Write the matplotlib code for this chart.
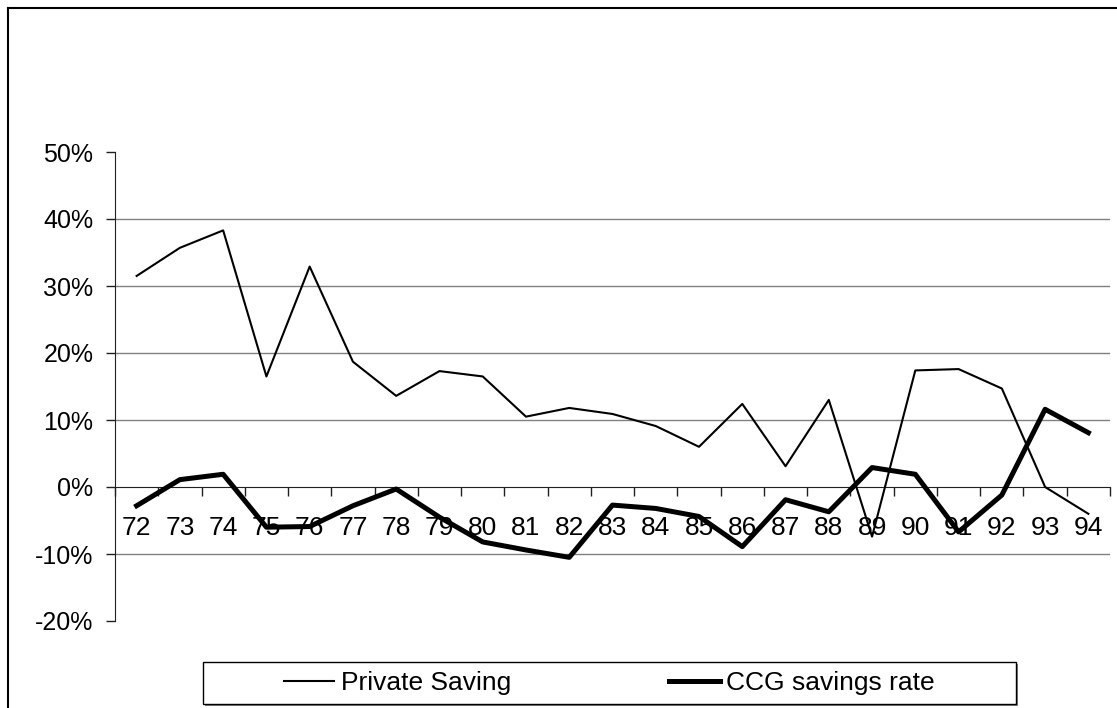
import matplotlib
matplotlib.use('Agg')
import matplotlib.pyplot as plt
from matplotlib.lines import Line2D
from matplotlib.patches import Rectangle
from matplotlib.ticker import FixedLocator, FuncFormatter

plt.rcParams['font.family'] = ['Liberation Sans', 'DejaVu Sans']

years = ['72', '73', '74', '75', '76', '77', '78', '79', '80', '81', '82', '83',
         '84', '85', '86', '87', '88', '89', '90', '91', '92', '93', '94']
private_saving = [31.5, 35.7, 38.3, 16.5, 32.9, 18.7, 13.6, 17.3, 16.5, 10.5, 11.8, 10.9,
                  9.1, 6.0, 12.4, 3.1, 13.0, -7.4, 17.4, 17.6, 14.7, 0.0, -4.0]
ccg_savings_rate = [-2.8, 1.1, 1.9, -6.0, -5.9, -2.8, -0.3, -4.5, -8.2, -9.4, -10.5, -2.7,
                    -3.2, -4.4, -8.9, -1.9, -3.7, 2.9, 1.9, -6.7, -1.2, 11.6, 8.1]
grid_values = [-10, 10, 20, 30, 40]

W, H = 1117, 708
fig = plt.figure(figsize=(W / 100, H / 100), dpi=100)
ax = fig.add_axes([115 / W, 1 - 621 / H, (1110 - 115) / W, (621 - 152) / H])

x = list(range(len(years)))
ax.plot(x, private_saving, color='black', lw=1.5, label='Private Saving', zorder=3)
ax.plot(x, ccg_savings_rate, color='black', lw=3.6, label='CCG savings rate', zorder=4)

for v in grid_values:
    ax.axhline(v, color='#808080', lw=1.0, zorder=1)

ax.set_xlim(-0.5, len(years) - 0.5)
ax.set_ylim(-20, 50)

# category axis crosses at 0
for side in ['top', 'right']:
    ax.spines[side].set_visible(False)
ax.spines['bottom'].set_position(('data', 0))
ax.spines['bottom'].set_color('#202020')
ax.spines['left'].set_color('#202020')

ax.xaxis.set_major_locator(FixedLocator([i - 0.5 for i in range(len(years) + 1)]))
ax.xaxis.set_minor_locator(FixedLocator(x))
ax.set_xticklabels([], minor=False)
ax.set_xticklabels(years, minor=True, fontsize=19)
ax.tick_params(axis='x', which='major', direction='out', length=6.5, width=1, color='#202020')
ax.tick_params(axis='x', which='minor', length=0, pad=21)

ax.set_yticks(range(-20, 51, 10))
ax.yaxis.set_major_formatter(FuncFormatter(lambda v, p: '%d%%' % v))
ax.tick_params(axis='y', direction='out', length=6.5, width=1, color='#202020',
               labelsize=18, pad=9)

# outer chart border (only top and left visible in the crop)
fig.add_artist(Line2D([7.5 / W, 1], [1 - 7.5 / H, 1 - 7.5 / H], color='black', lw=1.5,
                      transform=fig.transFigure))
fig.add_artist(Line2D([7.5 / W, 7.5 / W], [0, 1 - 7.5 / H], color='black', lw=1.5,
                      transform=fig.transFigure))

# legend box with a small shadow
fig.add_artist(Rectangle((205 / W, 1 - 706 / H), 813 / W, 42 / H, transform=fig.transFigure,
                         facecolor='#808080', edgecolor='none', zorder=1))
fig.add_artist(Rectangle((203 / W, 1 - 704 / H), 813 / W, 42 / H, transform=fig.transFigure,
                         facecolor='white', edgecolor='black', lw=1, zorder=2))
handles, labels = ax.get_legend_handles_labels()
leg = fig.legend(handles, labels, loc='center', bbox_to_anchor=(609.5 / W, 1 - 683 / H),
                 ncol=2, frameon=False, fontsize=19, handlelength=1.9, handletextpad=0.25,
                 columnspacing=6.0, borderpad=0)
leg.set_zorder(3)

fig.savefig('out.png', dpi=100)
